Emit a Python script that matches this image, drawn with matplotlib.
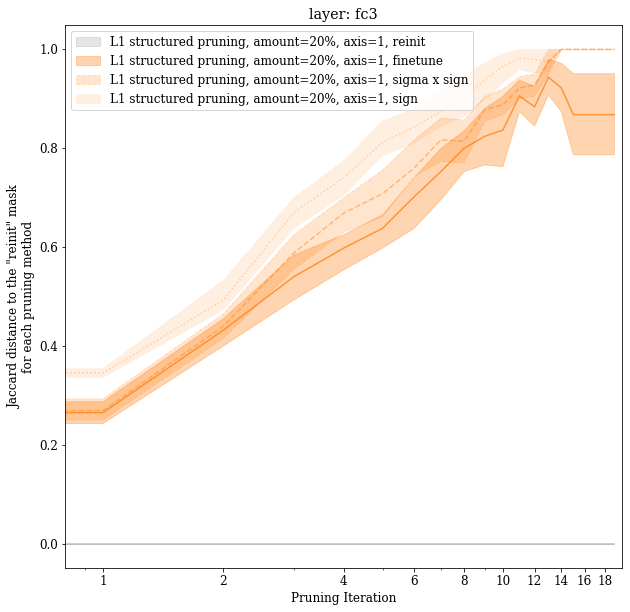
import matplotlib
matplotlib.use("Agg")
import matplotlib.pyplot as plt
import matplotlib.ticker as mticker
import numpy as np

plt.rcParams['font.family'] = ['DejaVu Serif']
plt.rcParams['font.size'] = 12

# pruning iterations (0 is clipped on the log axis)
iterations = list(range(0, 20))

# reinit: identical to itself
reinit_mean = [0.0] * 20
reinit_low = [0.0] * 20
reinit_high = [0.0] * 20

# finetune
finetune_mean = [0.265, 0.265, 0.432, 0.540, 0.598, 0.638, 0.702, 0.753, 0.800, 0.824,
                 0.837, 0.906, 0.884, 0.944, 0.922, 0.868, 0.868, 0.868, 0.868, 0.868]
finetune_low = [0.243, 0.243, 0.400, 0.493, 0.554, 0.598, 0.638, 0.696, 0.753, 0.766,
                0.763, 0.874, 0.845, 0.908, 0.874, 0.787, 0.787, 0.787, 0.787, 0.787]
finetune_high = [0.287, 0.287, 0.455, 0.584, 0.625, 0.665, 0.740, 0.800, 0.835, 0.880,
                 0.905, 0.938, 0.925, 0.980, 0.972, 0.951, 0.951, 0.951, 0.951, 0.951]

# sigma x sign
sigma_mean = [0.269, 0.269, 0.440, 0.588, 0.669, 0.708, 0.760, 0.817, 0.814, 0.878,
              0.888, 0.922, 0.928, 0.975, 1.0, 1.0, 1.0, 1.0, 1.0, 1.0]
sigma_low = [0.250, 0.250, 0.415, 0.555, 0.630, 0.662, 0.743, 0.773, 0.770, 0.854,
             0.868, 0.900, 0.905, 0.950, 1.0, 1.0, 1.0, 1.0, 1.0, 1.0]
sigma_high = [0.293, 0.293, 0.465, 0.625, 0.700, 0.756, 0.817, 0.861, 0.857, 0.905,
              0.920, 0.945, 0.950, 1.0, 1.0, 1.0, 1.0, 1.0, 1.0, 1.0]

# sign
sign_mean = [0.345, 0.345, 0.493, 0.670, 0.740, 0.812, 0.843, 0.874, 0.905, 0.938,
             0.966, 0.982, 0.980, 0.975, 1.0, 1.0, 1.0, 1.0, 1.0, 1.0]
sign_low = [0.336, 0.336, 0.473, 0.638, 0.705, 0.785, 0.810, 0.844, 0.864, 0.898,
            0.932, 0.959, 0.952, 0.955, 1.0, 1.0, 1.0, 1.0, 1.0, 1.0]
sign_high = [0.354, 0.354, 0.533, 0.700, 0.775, 0.855, 0.880, 0.915, 0.949, 0.972,
             0.992, 1.0, 1.0, 1.0, 1.0, 1.0, 1.0, 1.0, 1.0, 1.0]

xtick_values = [1, 2, 4, 6, 8, 10, 12, 14, 16, 18]

prefix = 'L1 structured pruning, amount=20%, axis=1, '
methods = [
    ('reinit', reinit_mean, reinit_low, reinit_high, '#7f7f7f', '-', 0.5, 0.2),
    ('finetune', finetune_mean, finetune_low, finetune_high, '#ff7f0e', '-', 0.75, 0.32),
    ('sigma x sign', sigma_mean, sigma_low, sigma_high, '#ff7f0e', '--', 0.45, 0.2),
    ('sign', sign_mean, sign_low, sign_high, '#ff7f0e', ':', 0.3, 0.12),
]

fig = plt.figure(figsize=(630 / 72, 612 / 72), dpi=72)
ax = fig.add_axes([0.1037, 0.0714, 0.8836, 0.8882])

for name, mean, low, high, color, ls, la, fa in methods:
    ax.plot(iterations, mean, color=color, linestyle=ls, alpha=la)
    ax.fill_between(iterations, low, high, color=color, linestyle=ls, alpha=fa,
                    label=prefix + name)

ax.set_xscale('log')
ax.set_xlim(0.805, 19.85)
ax.set_ylim(-0.05, 1.05)
ax.set_xticks(xtick_values)
ax.set_xticklabels([str(v) for v in xtick_values])
ax.xaxis.set_minor_formatter(mticker.NullFormatter())

ax.set_title('layer: fc3', fontsize=14.4)
ax.set_xlabel('Pruning Iteration')
ax.set_ylabel('Jaccard distance to the "reinit" mask\nfor each pruning method')
ax.legend(loc='upper left', fontsize=12)

plt.savefig('out.png', dpi=72)
